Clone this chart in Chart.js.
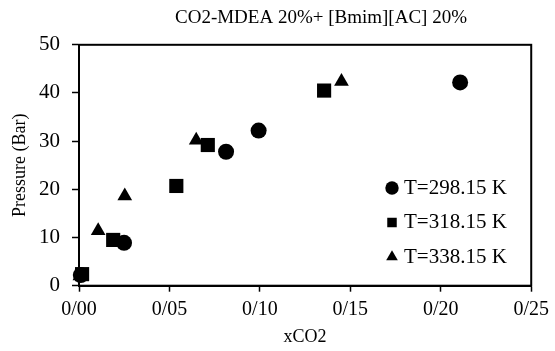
<!DOCTYPE html>
<html><head><meta charset="utf-8">
<script src="https://cdn.jsdelivr.net/npm/chart.js@4/dist/chart.umd.min.js"></script>
<style>html,body{margin:0;padding:0;background:#fff;}#wrap{width:555px;height:351px;}</style>
</head><body><div id="wrap"><canvas id="c" width="555" height="351"></canvas></div>
<script>
const chartTitle = 'CO2-MDEA 20%+ [Bmim][AC] 20%';
const xTitle = 'xCO2';
const yTitle = 'Pressure (Bar)';
const seriesNames = ['T=298.15 K', 'T=318.15 K', 'T=338.15 K'];
const x298 = [0.001, 0.0249, 0.0813, 0.0993, 0.2107];
const y298 = [2.2, 8.9, 27.8, 32.2, 42.2];
const x318 = [0.0017, 0.0189, 0.0538, 0.0712, 0.1355];
const y318 = [2.4, 9.5, 20.7, 29.2, 40.5];
const x338 = [0.0005, 0.0106, 0.0253, 0.0648, 0.1451];
const y338 = [2.0, 11.4, 18.6, 30.2, 42.4];
const xTickLabels = ['0/00', '0/05', '0/10', '0/15', '0/20', '0/25'];
const yTickLabels = ['0', '10', '20', '30', '40', '50'];

const FONT = 'Liberation Serif';
const pts = (xs, ys) => xs.map((x, i) => ({x: x, y: ys[i]}));

const boxPlugin = {
  id: 'plotBox',
  beforeDatasetsDraw(chart) {
    const a = chart.chartArea, ctx = chart.ctx;
    ctx.save();
    ctx.strokeStyle = '#000';
    ctx.lineWidth = 2;
    ctx.strokeRect(a.left, a.top, a.right - a.left, a.bottom - a.top);
    ctx.restore();
  }
};
const placePlugin = {
  id: 'place',
  afterLayout(chart) {
    const lg = chart.legend;
    if (lg) { lg.left = 377; lg.top = 164; lg.right = 555; lg.bottom = 351; }
    const tb = chart.titleBlock;
    if (tb) { tb.left = 92; tb.right = 550; }
  }
};

new Chart(document.getElementById('c'), {
  type: 'scatter',
  data: {
    datasets: [
      {label: seriesNames[0], data: pts(x298, y298), pointStyle: 'circle', pointRadius: 8,
       backgroundColor: '#000', borderColor: '#000', borderWidth: 0, clip: false},
      {label: seriesNames[1], data: pts(x318, y318), pointStyle: 'rect', pointRadius: 10,
       backgroundColor: '#000', borderColor: '#000', borderWidth: 0, clip: false},
      {label: seriesNames[2], data: pts(x338, y338), pointStyle: 'triangle', pointRadius: 8.5,
       backgroundColor: '#000', borderColor: '#000', borderWidth: 0, clip: false}
    ]
  },
  options: {
    responsive: false,
    animation: false,
    devicePixelRatio: 1,
    layout: {padding: {left: 0, right: 22, top: 0, bottom: 0}},
    plugins: {
      title: {display: true, text: chartTitle, color: '#000',
              font: {family: FONT, size: 19, weight: 'normal'}, padding: {top: 7, bottom: 15}},
      legend: {
        position: 'chartArea', align: 'start',
        labels: {usePointStyle: true, boxHeight: 9.5, boxWidth: 3, padding: 13.5, color: '#000',
                 font: {family: FONT, size: 21}}
      },
      tooltip: {enabled: false}
    },
    scales: {
      x: {
        type: 'linear', min: 0, max: 0.25,
        ticks: {stepSize: 0.05, color: '#000', font: {family: FONT, size: 20}, padding: 6,
                callback: (v, i) => xTickLabels[i]},
        grid: {drawOnChartArea: false, drawTicks: true, tickLength: 6, color: '#000', tickWidth: 1.5},
        border: {display: true, color: '#000', width: 2},
        title: {display: true, text: xTitle, color: '#000', font: {family: FONT, size: 18},
                padding: {top: 0, bottom: 3}},
        afterFit: s => { s.height = 65.3; }
      },
      y: {
        type: 'linear', min: 0, max: 50,
        ticks: {stepSize: 10, color: '#000', font: {family: FONT, size: 21}, padding: 12,
                callback: (v, i) => yTickLabels[i]},
        grid: {drawOnChartArea: false, drawTicks: true, tickLength: 7, color: '#000', tickWidth: 1.5},
        border: {display: true, color: '#000', width: 2},
        title: {display: true, text: yTitle, color: '#000', font: {family: FONT, size: 18},
                padding: {top: 9, bottom: 0}},
        afterFit: s => { s.width = 79; }
      }
    }
  },
  plugins: [boxPlugin, placePlugin]
});
</script></body></html>
